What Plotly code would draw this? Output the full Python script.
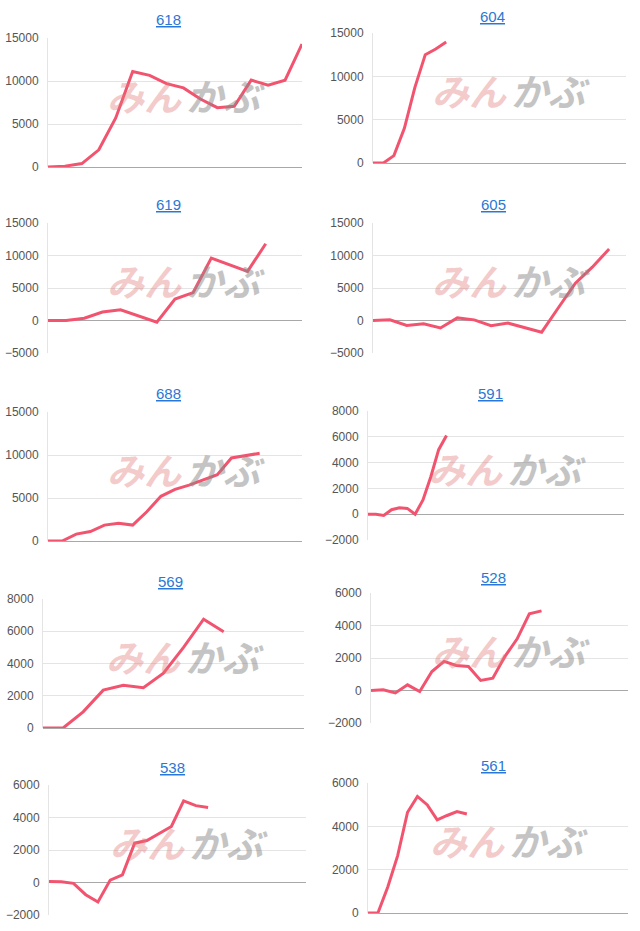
import plotly.graph_objects as go

# chart titles (left column first, then right, row by row)
names = ["618", "604", "619", "605", "688", "591", "569", "528", "538", "561"]

# series, one value per period
s618 = [0, 100, 400, 2000, 5700, 11100, 10650, 9700, 9200, 7900, 6900, 7050, 10100, 9500, 10100, 14300]
s604 = [0, 0, 850, 4000, 8700, 12500, 13150, 13950]
s619 = [0, 0, 350, 1300, 1650, 650, -250, 3300, 4300, 9600, 8600, 7550, 11800]
s605 = [0, 100, -750, -500, -1150, 400, 100, -800, -400, -1100, -1800, 2000, 5750, 8200, 11000]
s688 = [0, 0, 800, 1100, 1850, 2050, 1850, 3400, 5200, 6000, 6500, 7100, 7700, 9650, 9950, 10200]
s591 = [0, 0, -100, 350, 500, 450, 0, 1100, 2900, 5000, 6100]
s569 = [0, 0, 1000, 2350, 2650, 2500, 3400, 5000, 6750, 5970]
s528 = [0, 50, -150, 350, -60, 1170, 1790, 1540, 1480, 620, 760, 2100, 3180, 4720, 4900]
s538 = [60, 50, -50, -750, -1200, 150, 470, 2420, 2580, 3000, 3450, 5020, 4730, 4610]
s561 = [0, 0, 1200, 2650, 4650, 5380, 4990, 4300, 4500, 4680, 4570]
series = [s618, s604, s619, s605, s688, s591, s569, s528, s538, s561]

# y axis range and tick step per chart
ymin = [0, 0, -5000, -5000, 0, -2000, 0, -2000, -2000, 0]
ymax = [15000, 15000, 15000, 15000, 15000, 8000, 8000, 6000, 6000, 6000]
ystep = [5000, 5000, 5000, 5000, 5000, 2000, 2000, 2000, 2000, 2000]
# how many periods the x axis spans
xspan = [15, 24.2, 14, 15, 18, 32.6, 13, 21.1, 21, 26.3]

# ---- layout (pixels) ----
W, H = 640, 931
boxes = [  # left, right, top, bottom of each plot area
    (48, 302, 38, 167), (373, 626, 33, 163),
    (48, 302, 223, 353), (373, 626, 223, 353),
    (48, 302, 412, 541), (368, 624, 411, 540),
    (43, 304, 599, 728), (371, 628, 593, 723),
    (49, 306, 785, 915), (368, 628, 783, 913),
]
title_pos = [(168, 19), (492, 16), (168, 205), (493, 205), (168, 393),
             (490, 393), (170, 581), (493, 577), (172, 767), (493, 765)]

LINE = "#f2546f"
GRID = "#e4e4e4"
FONT = "Liberation Sans, Arial, sans-serif"

fig = go.Figure()
annotations = []

for i, (name, ys) in enumerate(zip(names, series)):
    k = "" if i == 0 else str(i + 1)
    x0, x1, yt, yb = boxes[i]
    fig.add_trace(go.Scatter(
        x=list(range(len(ys))), y=ys, mode="lines",
        line=dict(color=LINE, width=3), xaxis="x" + k, yaxis="y" + k,
        showlegend=False, hoverinfo="skip",
    ))
    fig.layout["xaxis" + k] = dict(
        domain=[x0 / W, x1 / W], range=[0, xspan[i]], anchor="y" + k,
        showgrid=False, zeroline=False, showline=False, showticklabels=False,
        fixedrange=True,
    )
    fig.layout["yaxis" + k] = dict(
        domain=[1 - yb / H, 1 - yt / H], range=[ymin[i], ymax[i]], anchor="x" + k,
        dtick=ystep[i], tick0=0, tickformat="d",
        showgrid=True, gridcolor=GRID, gridwidth=1,
        zeroline=True, zerolinecolor="#a8a8a8", zerolinewidth=1,
        showline=True, linecolor=GRID, linewidth=1,
        tickfont=dict(family=FONT, size=12, color="#555"),
        ticklabelstandoff=6, fixedrange=True, automargin=False,
    )
    tx, ty = title_pos[i]
    annotations.append(dict(
        text="<u>" + name + "</u>", x=tx / W, y=1 - ty / H, xref="paper", yref="paper",
        xanchor="center", yanchor="middle", showarrow=False,
        font=dict(family=FONT, size=15, color="#2a78d4"),
    ))
    # watermark
    annotations.append(dict(
        text="<b><i>みん</i></b>", xref="x%s domain" % k, yref="y%s domain" % k,
        x=0.5, y=0.5, xshift=9, yshift=8, xanchor="right", yanchor="middle",
        showarrow=False, opacity=0.38,
        font=dict(family="Noto Sans CJK JP", size=37, color="#e07878"),
    ))
    annotations.append(dict(
        text="<b><i>かぶ</i></b>", xref="x%s domain" % k, yref="y%s domain" % k,
        x=0.5, y=0.5, xshift=9, yshift=8, xanchor="left", yanchor="middle",
        showarrow=False, opacity=0.5,
        font=dict(family="Noto Sans CJK JP", size=37, color="#8a8a8a"),
    ))

fig.update_layout(
    width=W, height=H, margin=dict(l=0, r=0, t=0, b=0),
    paper_bgcolor="white", plot_bgcolor="white",
    annotations=annotations,
)

fig.write_html("out.html", config={"displayModeBar": False},
               post_script="document.body.style.margin='0';")
